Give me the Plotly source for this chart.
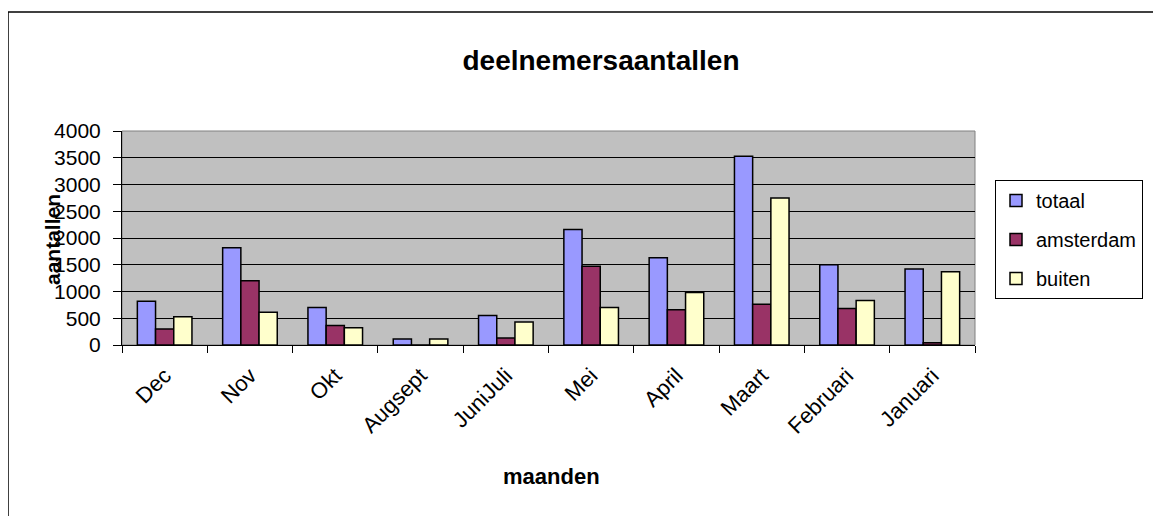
import plotly.graph_objects as go

categories = ["Dec", "Nov", "Okt", "Augsept", "JuniJuli", "Mei", "April", "Maart", "Februari", "Januari"]
totaal = [820, 1820, 700, 110, 550, 2160, 1630, 3530, 1500, 1420]
amsterdam = [300, 1200, 366, 0, 130, 1470, 660, 760, 680, 40]
buiten = [530, 610, 323, 110, 430, 700, 980, 2750, 830, 1370]
y_ticks = [0, 500, 1000, 1500, 2000, 2500, 3000, 3500, 4000]

FONT = "Liberation Sans, Arial, sans-serif"
OFF = 8  # page body margin
W, H = 1161 - OFF, 516 - OFF
L, R, T, B = 122 - OFF, 975 - OFF, 131 - OFF, 345 - OFF
pw, ph = R - L, B - T

def px(x):
    return (x - OFF - L) / pw

def py(y):
    return (B - (y - OFF)) / ph

fig = go.Figure()
series = [("totaal", totaal, "#9999ff"), ("amsterdam", amsterdam, "#993366"), ("buiten", buiten, "#ffffcc")]
for name, vals, col in series:
    fig.add_trace(go.Bar(x=categories, y=vals, name=name,
                         marker=dict(color=col, line=dict(color="black", width=1.5)),
                         legendgroup=name))

fig.update_layout(
    width=W, height=H,
    margin=dict(l=L, r=W - R, t=T, b=H - B, autoexpand=False),
    paper_bgcolor="white", plot_bgcolor="#c0c0c0",
    barmode="group", bargap=0.36, bargroupgap=0,
    font=dict(family=FONT, color="black"),
    title=dict(text="<b>deelnemersaantallen</b>", x=px(601), xanchor="center", xref="paper",
               y=1 - (60 - OFF) / H, yanchor="middle", font=dict(size=28, family=FONT)),
    showlegend=True,
    legend=dict(x=px(995), y=py(180), xanchor="left", yanchor="top", bordercolor="black", borderwidth=1,
                bgcolor="white", font=dict(size=20, family=FONT), traceorder="grouped", tracegroupgap=10,
                itemwidth=30),
    xaxis=dict(tickangle=-45, tickfont=dict(size=22), ticks="outside", tickson="boundaries", ticklen=7,
               ticklabelstandoff=8,
               tickcolor="black", showline=True, linecolor="black", linewidth=1, showgrid=False),
    yaxis=dict(range=[0, 4000], tickvals=y_ticks, tickfont=dict(size=21), ticks="outside", ticklen=8,
               ticklabelstandoff=8,
               tickcolor="black", showline=True, linecolor="black", linewidth=1, showgrid=True,
               gridcolor="black", gridwidth=1, zeroline=False),
    annotations=[
        dict(text="<b>aantallen</b>", x=px(52), y=py(240), xref="paper", yref="paper", showarrow=False,
             textangle=-90, font=dict(size=21, family=FONT), xanchor="center", yanchor="middle"),
        dict(text="<b>maanden</b>", x=px(551), y=py(477), xref="paper", yref="paper", showarrow=False,
             font=dict(size=22, family=FONT), xanchor="center", yanchor="middle"),
    ],
    shapes=[
        dict(type="rect", xref="paper", yref="paper", x0=0, x1=1, y0=0, y1=1,
             line=dict(color="#808080", width=1), layer="below"),
        dict(type="line", xref="paper", yref="paper", x0=px(8), x1=px(1175), y0=py(12), y1=py(12),
             line=dict(color="black", width=1.5)),
        dict(type="line", xref="paper", yref="paper", x0=px(8), x1=px(8), y0=py(12), y1=py(530),
             line=dict(color="black", width=1.5)),
    ],
)

fig.write_html("out.html")
